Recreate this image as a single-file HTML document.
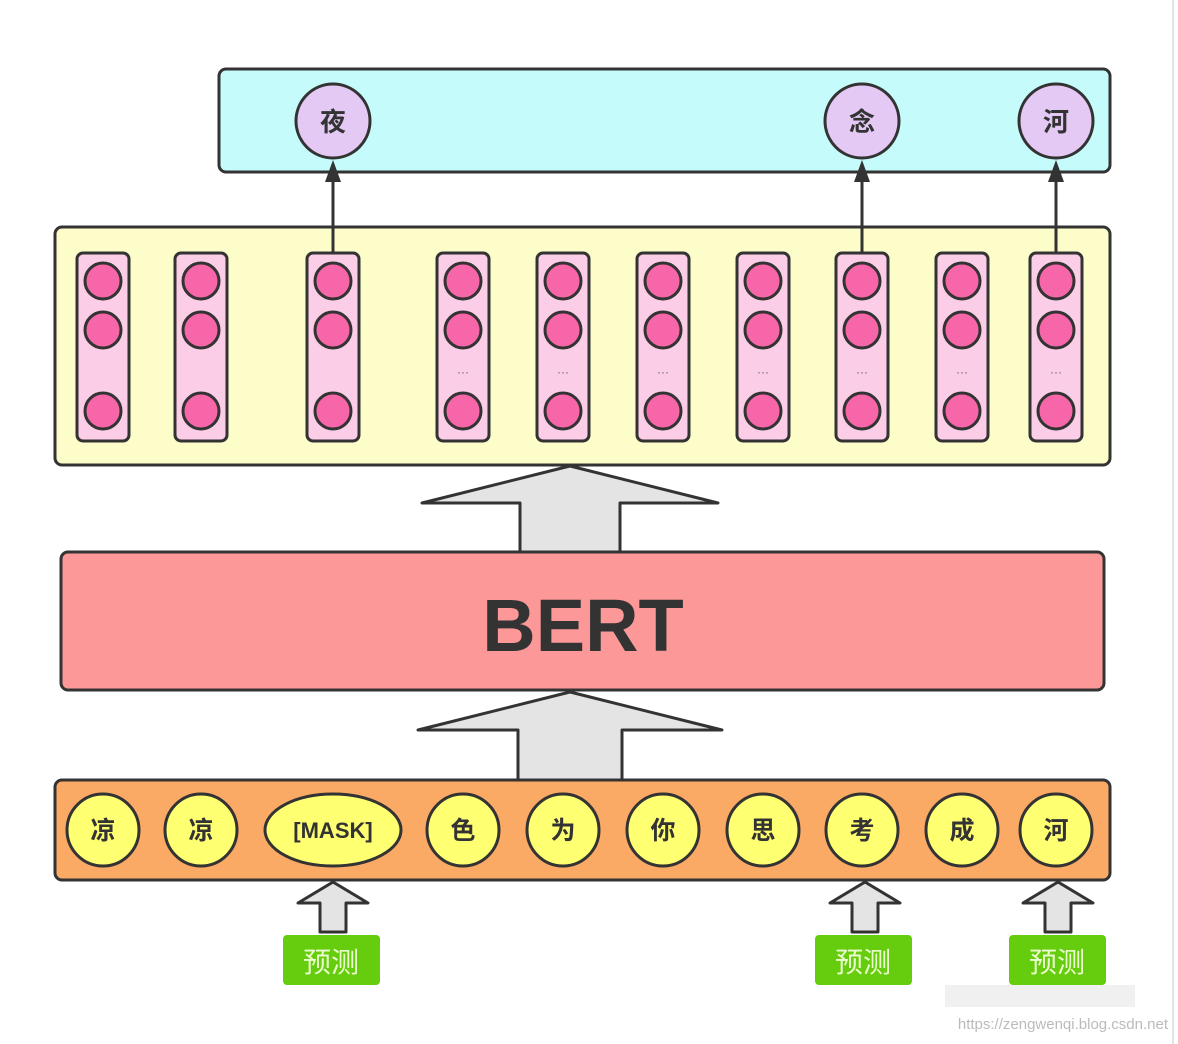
<!DOCTYPE html>
<html><head><meta charset="utf-8"><style>
html,body{margin:0;padding:0;background:#fff;}
svg{display:block;}
.cj{font-family:"Liberation Sans","Noto Sans CJK SC",sans-serif;font-weight:bold;fill:#333;text-anchor:middle;}
</style></head><body>
<svg width="1178" height="1044" viewBox="0 0 1178 1044" xmlns="http://www.w3.org/2000/svg">
<line x1="1173" y1="0" x2="1173" y2="1044" stroke="#e4e4e4" stroke-width="2"/>
<rect x="219" y="69" width="891" height="103" rx="7" fill="#c6fbfb" stroke="#333" stroke-width="3"/>
<g stroke="#333" stroke-width="3" fill="#e3c9f4">
<circle cx="333" cy="121" r="37"/><circle cx="862" cy="121" r="37"/><circle cx="1056" cy="121" r="37"/>
</g>
<g class="cj" font-size="26">
<text x="333" y="131">夜</text><text x="862" y="131">念</text><text x="1056" y="131">河</text>
</g>
<rect x="55" y="227" width="1055" height="238" rx="7" fill="#fdfdc9" stroke="#333" stroke-width="3"/>
<g stroke="#333" stroke-width="3">
<line x1="333" y1="253" x2="333" y2="175"/><line x1="862" y1="253" x2="862" y2="175"/><line x1="1056" y1="253" x2="1056" y2="175"/>
</g>
<g fill="#333">
<polygon points="333,160 325,182 341,182"/><polygon points="862,160 854,182 870,182"/><polygon points="1056,160 1048,182 1064,182"/>
</g>
<g stroke="#333" stroke-width="3">
<g fill="#fbcde6">
<rect x="77" y="253" width="52" height="188" rx="6"/><rect x="175" y="253" width="52" height="188" rx="6"/><rect x="307" y="253" width="52" height="188" rx="6"/>
<rect x="437" y="253" width="52" height="188" rx="6"/><rect x="537" y="253" width="52" height="188" rx="6"/><rect x="637" y="253" width="52" height="188" rx="6"/>
<rect x="737" y="253" width="52" height="188" rx="6"/><rect x="836" y="253" width="52" height="188" rx="6"/><rect x="936" y="253" width="52" height="188" rx="6"/>
<rect x="1030" y="253" width="52" height="188" rx="6"/>
</g>
<g fill="#f766a8">
<circle cx="103" cy="281" r="18"/><circle cx="103" cy="330" r="18"/><circle cx="103" cy="411" r="18"/>
<circle cx="201" cy="281" r="18"/><circle cx="201" cy="330" r="18"/><circle cx="201" cy="411" r="18"/>
<circle cx="333" cy="281" r="18"/><circle cx="333" cy="330" r="18"/><circle cx="333" cy="411" r="18"/>
<circle cx="463" cy="281" r="18"/><circle cx="463" cy="330" r="18"/><circle cx="463" cy="411" r="18"/>
<circle cx="563" cy="281" r="18"/><circle cx="563" cy="330" r="18"/><circle cx="563" cy="411" r="18"/>
<circle cx="663" cy="281" r="18"/><circle cx="663" cy="330" r="18"/><circle cx="663" cy="411" r="18"/>
<circle cx="763" cy="281" r="18"/><circle cx="763" cy="330" r="18"/><circle cx="763" cy="411" r="18"/>
<circle cx="862" cy="281" r="18"/><circle cx="862" cy="330" r="18"/><circle cx="862" cy="411" r="18"/>
<circle cx="962" cy="281" r="18"/><circle cx="962" cy="330" r="18"/><circle cx="962" cy="411" r="18"/>
<circle cx="1056" cy="281" r="18"/><circle cx="1056" cy="330" r="18"/><circle cx="1056" cy="411" r="18"/>
</g>
</g>
<g font-family="Liberation Sans,sans-serif" font-size="12" fill="#666" text-anchor="middle">
<text x="463" y="376">···</text><text x="563" y="376">···</text><text x="663" y="376">···</text><text x="763" y="376">···</text><text x="862" y="376">···</text><text x="962" y="376">···</text><text x="1056" y="376">···</text>
</g>
<polygon points="570,466 718,503 620,503 620,552 520,552 520,503 422,503" fill="#e4e4e4" stroke="#333" stroke-width="3" stroke-linejoin="round"/>
<rect x="61" y="552" width="1043" height="138" rx="7" fill="#fd9898" stroke="#333" stroke-width="3"/>
<text x="583" y="651" font-family="Liberation Sans,sans-serif" font-weight="bold" font-size="74" fill="#333" text-anchor="middle">BERT</text>
<polygon points="570,692 722,730 622,730 622,780 518,780 518,730 418,730" fill="#e4e4e4" stroke="#333" stroke-width="3" stroke-linejoin="round"/>
<rect x="55" y="780" width="1055" height="100" rx="7" fill="#fbaa66" stroke="#333" stroke-width="3"/>
<g stroke="#333" stroke-width="3" fill="#ffff72">
<circle cx="103" cy="830" r="36"/><circle cx="201" cy="830" r="36"/><ellipse cx="333" cy="830" rx="68" ry="36"/>
<circle cx="463" cy="830" r="36"/><circle cx="563" cy="830" r="36"/><circle cx="663" cy="830" r="36"/>
<circle cx="763" cy="830" r="36"/><circle cx="862" cy="830" r="36"/><circle cx="962" cy="830" r="36"/><circle cx="1056" cy="830" r="36"/>
</g>
<g class="cj" font-size="25">
<text x="103" y="839">凉</text><text x="201" y="839">凉</text><text x="333" y="838" font-size="22">[MASK]</text>
<text x="463" y="839">色</text><text x="563" y="839">为</text><text x="663" y="839">你</text><text x="763" y="839">思</text>
<text x="862" y="839">考</text><text x="962" y="839">成</text><text x="1056" y="839">河</text>
</g>
<g fill="#e4e4e4" stroke="#333" stroke-width="3" stroke-linejoin="round">
<polygon points="333,882 368,903 346,903 346,932 320,932 320,903 298,903"/>
<polygon points="865,882 900,903 878,903 878,932 852,932 852,903 830,903"/>
<polygon points="1058,882 1093,903 1071,903 1071,932 1045,932 1045,903 1023,903"/>
</g>
<g fill="#66cc0e">
<rect x="283" y="935" width="97" height="50" rx="4"/><rect x="815" y="935" width="97" height="50" rx="4"/><rect x="1009" y="935" width="97" height="50" rx="4"/>
</g>
<g font-family="Liberation Sans,'Noto Sans CJK SC',sans-serif" font-size="28" fill="#eaffcc" text-anchor="middle">
<text x="331" y="972">预测</text><text x="863" y="972">预测</text><text x="1057" y="972">预测</text>
</g>
<g fill="#ccc"><rect x="945" y="985" width="190" height="22" opacity="0.3"/></g>
<text x="1168" y="1029" font-family="Liberation Sans,sans-serif" font-size="15" fill="#bbb" text-anchor="end">https://zengwenqi.blog.csdn.net</text>
</svg>
</body></html>
